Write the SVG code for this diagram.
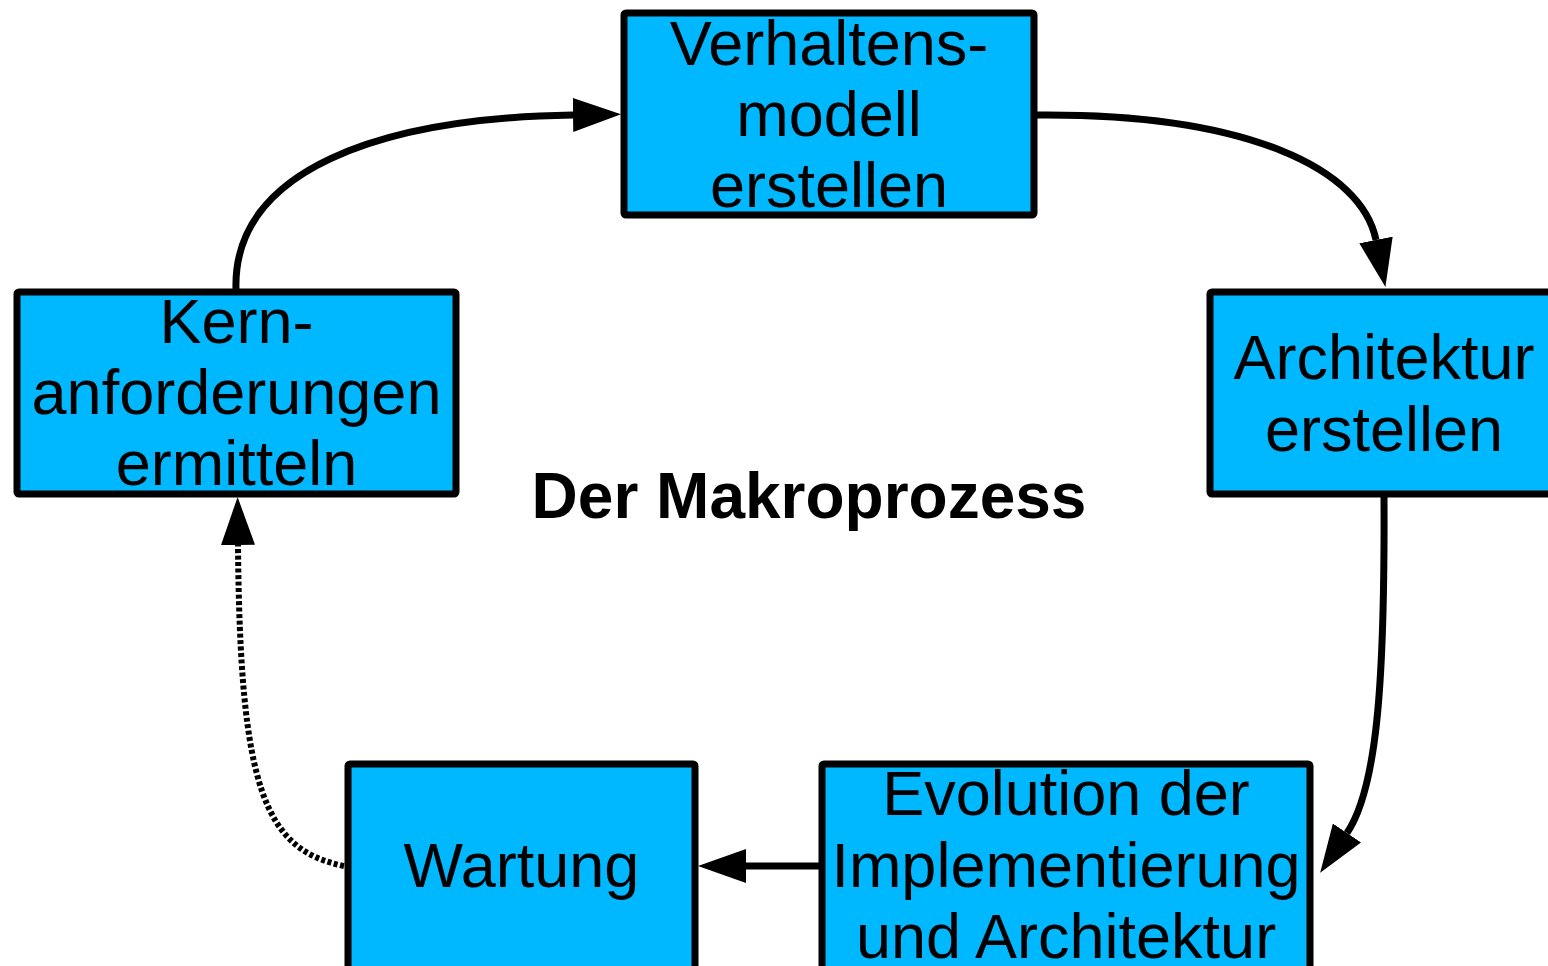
<svg xmlns="http://www.w3.org/2000/svg" width="1548" height="966" viewBox="0 0 1548 966">
  <style>
    .box { fill: #00B8FF; stroke: #000; stroke-width: 7; }
    .lbl { font-family: "Liberation Sans", Arial, sans-serif; font-size: 63px; fill: #000; text-anchor: middle; }
    .title { font-family: "Liberation Sans", Arial, sans-serif; font-size: 64px; font-weight: bold; fill: #000; text-anchor: middle; }
    .edge { fill: none; stroke: #000; stroke-width: 7; marker-end: url(#arrow); }
    .dotted { stroke-width: 6; stroke-dasharray: 4 2.5; }
  </style>
  <defs>
    <marker id="arrow" markerUnits="userSpaceOnUse" viewBox="0 0 48 34" markerWidth="48" markerHeight="34" refX="0" refY="17" orient="auto">
      <path d="M0,0 L48,17 L0,34 Z" fill="#000"/>
    </marker>
  </defs>

  <rect width="1548" height="966" fill="#fff"/>

  <g id="connectors">
    <path class="edge" d="M236,290 C232,170 380,118 573,115"/>
    <path class="edge" d="M1036,115 C1250,113 1362,170 1376,240"/>
    <path class="edge" d="M1384,496 C1385,690 1376,790 1347,833"/>
    <path class="edge" d="M822,866 L746,866"/>
    <path class="edge dotted" d="M344,866 C265,850 240,790 238,545"/>
  </g>

  <g id="verhaltensmodell">
    <rect class="box" x="624" y="13" width="410" height="202" rx="2"/>
    <text class="lbl" x="829" y="65">Verhaltens-</text>
    <text class="lbl" x="829" y="136">modell</text>
    <text class="lbl" x="829" y="207">erstellen</text>
  </g>

  <g id="kernanforderungen">
    <rect class="box" x="17" y="292" width="439" height="202" rx="2"/>
    <text class="lbl" x="236.5" y="343">Kern-</text>
    <text class="lbl" x="236.5" y="414">anforderungen</text>
    <text class="lbl" x="236.5" y="485">ermitteln</text>
  </g>

  <g id="architektur">
    <rect class="box" x="1210" y="292" width="348" height="202" rx="2"/>
    <text class="lbl" x="1384" y="379">Architektur</text>
    <text class="lbl" x="1384" y="451">erstellen</text>
  </g>

  <g id="evolution">
    <rect class="box" x="822" y="764" width="488" height="220" rx="2"/>
    <text class="lbl" x="1066" y="815">Evolution der</text>
    <text class="lbl" x="1066" y="887">Implementierung</text>
    <text class="lbl" x="1066" y="958">und Architektur</text>
  </g>

  <g id="wartung">
    <rect class="box" x="348" y="764" width="347" height="220" rx="2"/>
    <text class="lbl" x="521.5" y="887">Wartung</text>
  </g>

  <text class="title" x="809" y="518">Der Makroprozess</text>
</svg>
